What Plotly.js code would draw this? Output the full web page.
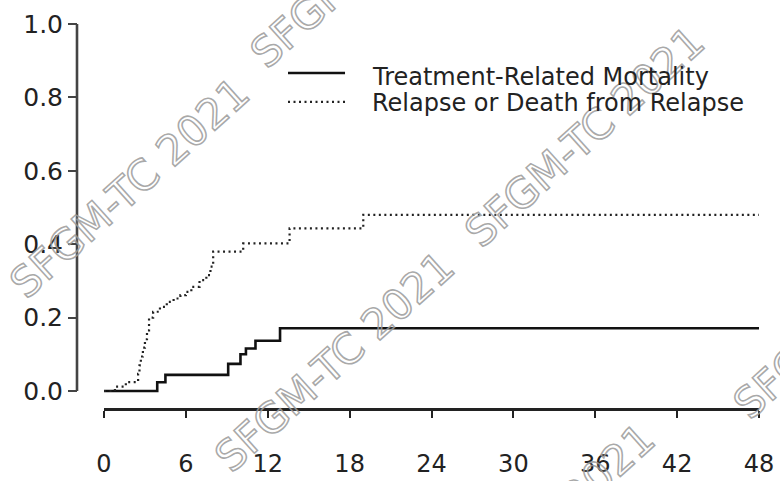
<!DOCTYPE html>
<html>
<head>
<meta charset="utf-8">
<script src="https://cdn.plot.ly/plotly-3.0.1.min.js"></script>
<style>
  html, body { margin: 0; padding: 0; background: #fff; }
  #chart { width: 780px; height: 481px; }
  /* outlined watermark lettering */
  g.annotation[data-index="0"] text,
  g.annotation[data-index="1"] text,
  g.annotation[data-index="2"] text,
  g.annotation[data-index="3"] text,
  g.annotation[data-index="4"] text,
  g.annotation[data-index="5"] text {
    fill: #ffffff !important;
    fill-opacity: 0.15 !important;
    stroke: #9a9a9a;
    stroke-width: 1.6px;
    stroke-opacity: 0.85;
  }
</style>
</head>
<body>
<div id="chart"></div>
<script>
// Cumulative incidence (months after transplant)
const trmMonths = [0, 3.9, 4.5, 9.1, 10.0, 10.4, 11.1, 12.9, 48];
const trmValues = [0, 0.024, 0.044, 0.074, 0.100, 0.116, 0.137, 0.171, 0.171];

const relapseMonths = [0, 0.8, 1.6, 2.5, 2.6, 2.7, 2.85, 3.0, 3.15, 3.3, 3.6, 4.1, 4.6, 5.1, 5.6, 6.0, 6.4, 7.0, 7.5, 7.8, 8.0, 10.2, 13.6, 19.0, 48];
const relapseValues = [0, 0.012, 0.024, 0.047, 0.070, 0.094, 0.118, 0.141, 0.165, 0.200, 0.216, 0.229, 0.243, 0.252, 0.261, 0.270, 0.284, 0.302, 0.316, 0.339, 0.380, 0.402, 0.443, 0.480, 0.480];

const seriesNames = ['Treatment-Related Mortality', 'Relapse or Death from Relapse'];

const xTicks = [0, 6, 12, 18, 24, 30, 36, 42, 48];
const yTicks = [0, 0.2, 0.4, 0.6, 0.8, 1.0];
const yTickText = ['0.0', '0.2', '0.4', '0.6', '0.8', '1.0'];

const watermarkText = 'SFGM-TC 2021';
const FONT = 'DejaVu Sans, Arial, sans-serif';

const traces = [
  {
    x: trmMonths, y: trmValues, name: seriesNames[0],
    type: 'scatter', mode: 'lines',
    line: { shape: 'hv', color: '#111', width: 2.6 },
    hoverinfo: 'skip'
  },
  {
    x: relapseMonths, y: relapseValues, name: seriesNames[1],
    type: 'scatter', mode: 'lines',
    line: { shape: 'hv', color: '#222', width: 2.2, dash: '2px,3.5px' },
    hoverinfo: 'skip'
  }
];

// watermark placements (paper coords)
const wmSpots = [
  [0.078, 0.573], [0.43, 1.174], [0.745, 0.706],
  [0.378, 0.12], [0.672, -0.326], [1.138, 0.26]
];
const annotations = wmSpots.map(p => ({
  text: watermarkText, xref: 'paper', yref: 'paper',
  x: p[0], y: p[1], xanchor: 'center', yanchor: 'middle',
  textangle: -42, showarrow: false,
  font: { family: FONT, size: 42, color: '#bbbbbb' }
}));

// legend text
annotations.push(
  { text: seriesNames[0], xref: 'paper', yref: 'paper', x: 0.4296, y: 0.862,
    xanchor: 'left', yanchor: 'middle', showarrow: false,
    font: { family: FONT, size: 24, color: '#222' } },
  { text: seriesNames[1], xref: 'paper', yref: 'paper', x: 0.4296, y: 0.794,
    xanchor: 'left', yanchor: 'middle', showarrow: false,
    font: { family: FONT, size: 24, color: '#222' } }
);

const shapes = [
  // y axis spine, 0 to 1
  { type: 'line', xref: 'paper', yref: 'y', x0: 0, x1: 0, y0: 0, y1: 1,
    line: { color: '#444', width: 2.6 } },
  // legend samples
  { type: 'line', xref: 'paper', yref: 'paper', x0: 0.3094, x1: 0.393, y0: 0.8724, y1: 0.8724,
    line: { color: '#111', width: 2.6 } },
  { type: 'line', xref: 'paper', yref: 'paper', x0: 0.3094, x1: 0.393, y0: 0.797, y1: 0.797,
    line: { color: '#222', width: 2.2, dash: '2px,3.5px' } }
];

const layout = {
  width: 780, height: 481,
  margin: { l: 77, r: 21, t: 24, b: 73 },
  paper_bgcolor: '#fff', plot_bgcolor: '#fff',
  showlegend: false,
  xaxis: {
    domain: [0.0396, 1], range: [0, 48], anchor: 'y',
    tickvals: xTicks, ticks: 'outside', ticklen: 7, tickwidth: 2, tickcolor: '#222',
    showline: true, linewidth: 2.6, linecolor: '#222',
    showgrid: false, zeroline: false, ticklabelstandoff: 26,
    tickfont: { family: FONT, size: 24, color: '#222' }
  },
  yaxis: {
    domain: [0, 1], range: [-0.0463, 1], anchor: 'free', position: 0,
    tickvals: yTicks, ticktext: yTickText,
    ticks: 'outside', ticklen: 9, tickwidth: 2, tickcolor: '#444',
    showline: false, showgrid: false, zeroline: false,
    tickfont: { family: FONT, size: 25, color: '#222' }
  },
  shapes: shapes,
  annotations: annotations
};

Plotly.newPlot('chart', traces, layout, { staticPlot: true, displayModeBar: false });
</script>
</body>
</html>
